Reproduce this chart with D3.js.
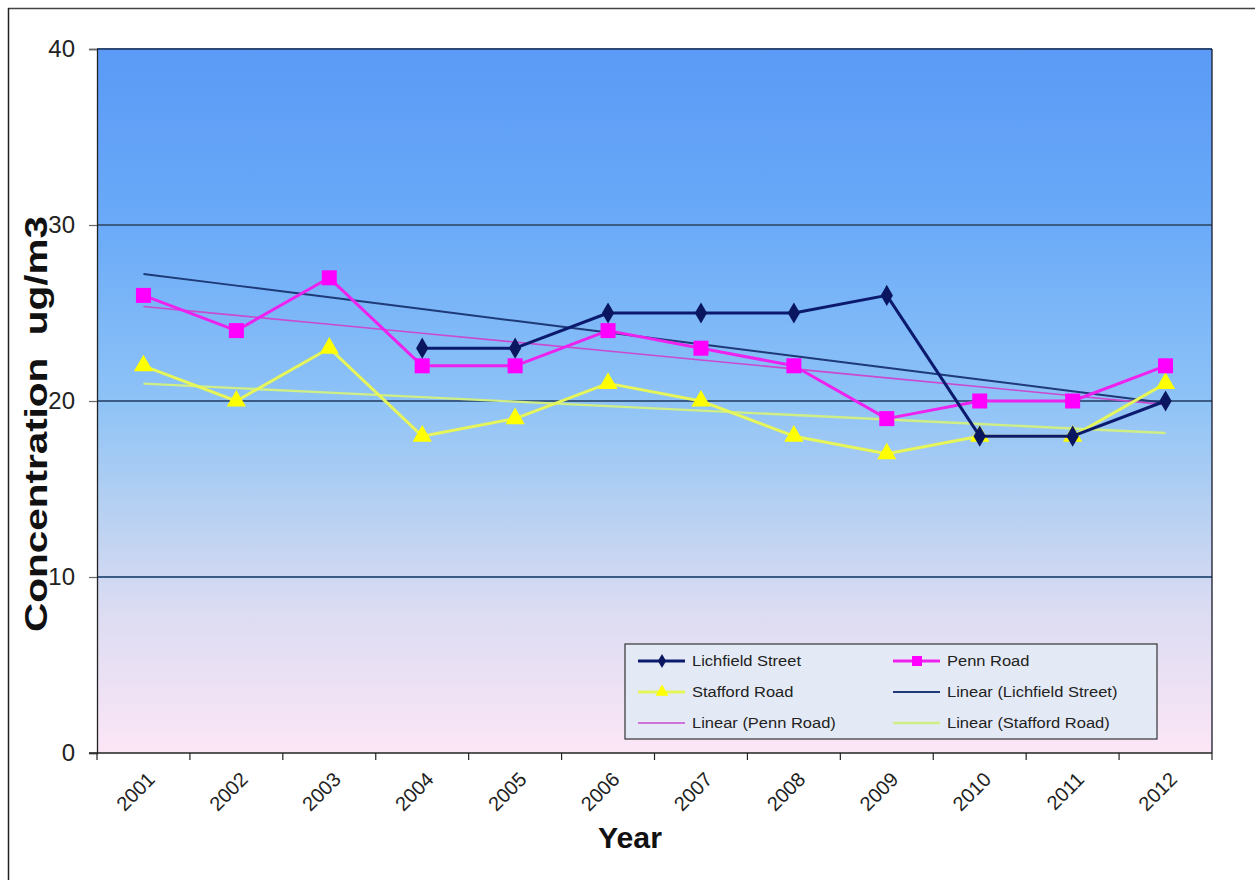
<!DOCTYPE html>
<html>
<head>
<meta charset="utf-8">
<script src="https://cdn.jsdelivr.net/npm/d3@7/dist/d3.min.js"></script>
<style>
  html, body { margin: 0; padding: 0; background: #fff; }
  svg { display: block; font-family: "Liberation Sans", Arial, sans-serif; }
</style>
</head>
<body>
<svg id="chart" width="1255" height="880"></svg>
<script>
// Annual mean concentrations (ug/m3) by monitoring site
const years = ["2001","2002","2003","2004","2005","2006","2007","2008","2009","2010","2011","2012"];
const lichfieldStreet = [null, null, null, 23, 23, 25, 25, 25, 26, 18, 18, 20];
const pennRoad        = [26, 24, 27, 22, 22, 24, 23, 22, 19, 20, 20, 22];
const staffordRoad    = [22, 20, 23, 18, 19, 21, 20, 18, 17, 18, 18, 21];
const yTicks = [0, 10, 20, 30, 40];

const svg = d3.select("#chart");
const W = 1255, H = 880;
const plot = { left: 97, right: 1212, top: 49, bottom: 753 };

// Outer frame
svg.append("rect").attr("x", 0).attr("y", 0).attr("width", W).attr("height", H).attr("fill", "#fff");
svg.append("line").attr("x1", 8).attr("x2", W).attr("y1", 8.5).attr("y2", 8.5).attr("stroke", "#444").attr("stroke-width", 1.5);
svg.append("line").attr("x1", 8.5).attr("x2", 8.5).attr("y1", 8).attr("y2", H).attr("stroke", "#222").attr("stroke-width", 1.5);

const x = d3.scaleBand().domain(years).range([plot.left, plot.right]).padding(0);
const y = d3.scaleLinear().domain([0, 40]).range([plot.bottom, plot.top]);
const cx = d => x(d) + x.bandwidth() / 2;

// Plot background gradient
const defs = svg.append("defs");
const grad = defs.append("linearGradient").attr("id", "bg").attr("x1", 0).attr("y1", 0).attr("x2", 0).attr("y2", 1);
[[0, "#5b9af6"], [0.25, "#6aaaf8"], [0.5, "#8ec3f7"], [0.65, "#b5d0f2"], [0.8, "#dcdcf2"], [1, "#fce6f6"]]
  .forEach(([o, c]) => grad.append("stop").attr("offset", o).attr("stop-color", c));
svg.append("rect")
  .attr("x", plot.left).attr("y", plot.top)
  .attr("width", plot.right - plot.left).attr("height", plot.bottom - plot.top)
  .attr("fill", "url(#bg)");

// Horizontal gridlines
svg.append("g").selectAll("line").data(yTicks.filter(t => t > 0)).join("line")
  .attr("x1", plot.left).attr("x2", plot.right)
  .attr("y1", d => y(d)).attr("y2", d => y(d))
  .attr("stroke", d => d === 40 ? "#2c4a78" : "#3b5c84").attr("stroke-width", 2);

// Plot border right
svg.append("line").attr("x1", plot.right).attr("x2", plot.right).attr("y1", plot.top).attr("y2", plot.bottom)
  .attr("stroke", "#1a1a2a").attr("stroke-width", 1.3);

// Y axis
const yAxis = d3.axisLeft(y).tickValues(yTicks).tickSize(8).tickPadding(14);
const gy = svg.append("g").attr("transform", `translate(${plot.left},0)`).call(yAxis);
gy.select(".domain").attr("stroke", "#222").attr("stroke-width", 1.3);
gy.selectAll(".tick line").attr("stroke", "#666").attr("stroke-width", 1.2);
gy.selectAll(".tick text").attr("font-size", 24).attr("fill", "#222")
  .attr("font-family", "'Liberation Sans', Arial, sans-serif");

// X axis with ticks at category boundaries
const gx = svg.append("g").attr("transform", `translate(0,${plot.bottom})`);
gx.append("line").attr("x1", plot.left - 8).attr("x2", plot.right).attr("y1", 0).attr("y2", 0)
  .attr("stroke", "#222").attr("stroke-width", 1.3);
const bounds = years.map(d => x(d)).concat([plot.right]);
gx.selectAll("line.b").data(bounds).join("line").attr("class", "b")
  .attr("x1", d => d).attr("x2", d => d).attr("y1", 0).attr("y2", 7)
  .attr("stroke", "#222").attr("stroke-width", 1.2);
gx.selectAll("text").data(years).join("text")
  .attr("transform", d => `translate(${cx(d) + 9},${24}) rotate(-45)`)
  .attr("text-anchor", "end").attr("dominant-baseline", "middle")
  .attr("font-size", 20).attr("fill", "#222").text(d => d);

// Axis titles
svg.append("text")
  .attr("transform", `translate(47,${424}) rotate(-90)`)
  .attr("text-anchor", "middle").attr("font-size", 31).attr("font-weight", "bold").attr("fill", "#111")
  .attr("textLength", 416).attr("lengthAdjust", "spacingAndGlyphs")
  .attr("xml:space", "preserve")
  .text("Concentration  ug/m3");
svg.append("text")
  .attr("x", 630).attr("y", 848).attr("text-anchor", "middle")
  .attr("font-size", 29).attr("font-weight", "bold").attr("fill", "#111")
  .attr("textLength", 64).attr("lengthAdjust", "spacingAndGlyphs").text("Year");

// Least-squares linear trend over category index (1..n), skipping gaps
function linearTrend(values) {
  const pts = values.map((v, i) => [i + 1, v]).filter(p => p[1] != null);
  const mx = d3.mean(pts, p => p[0]), my = d3.mean(pts, p => p[1]);
  const sxy = d3.sum(pts, p => (p[0] - mx) * (p[1] - my));
  const sxx = d3.sum(pts, p => (p[0] - mx) ** 2);
  const b = sxy / sxx, a = my - b * mx;
  return years.map((yr, i) => ({ yr, v: a + b * (i + 1) }));
}

const series = [
  { name: "Lichfield Street", data: lichfieldStreet, color: "#0c1a6e", width: 3, marker: "diamond", mcolor: "#0a1660", trendColor: "#1e3a78", trendWidth: 2 },
  { name: "Penn Road", data: pennRoad, color: "#ee22ee", width: 3, marker: "square", mcolor: "#ff00ff", trendColor: "#c94ad0", trendWidth: 1.6 },
  { name: "Stafford Road", data: staffordRoad, color: "#e6f55a", width: 3, marker: "triangle", mcolor: "#ffff00", trendColor: "#cfee86", trendWidth: 2.4 }
];

const lineGen = d3.line().defined(d => d.v != null).x(d => cx(d.yr)).y(d => y(d.v));
const trendGen = d3.line().x(d => cx(d.yr)).y(d => y(d.v));

const symbolFor = { diamond: d3.symbolDiamond, square: d3.symbolSquare, triangle: d3.symbolTriangle };
const symbolSize = { diamond: 130, square: 225, triangle: 160 };

const trendLayer = svg.append("g");
const lineLayer = svg.append("g");

series.forEach(s => {
  trendLayer.append("path").datum(linearTrend(s.data)).attr("d", trendGen)
    .attr("fill", "none").attr("stroke", s.trendColor).attr("stroke-width", s.trendWidth);
});
// Stafford first so navy/magenta sit on top
[series[2], series[1], series[0]].forEach(s => {
  const pts = years.map((yr, i) => ({ yr, v: s.data[i] }));
  const g = lineLayer.append("g");
  g.append("path").datum(pts).attr("d", lineGen)
    .attr("fill", "none").attr("stroke", s.color).attr("stroke-width", s.width).attr("stroke-linejoin", "round");
  g.selectAll("path.m").data(pts.filter(d => d.v != null)).join("path").attr("class", "m")
    .attr("transform", d => `translate(${cx(d.yr)},${y(d.v)})`)
    .attr("d", d3.symbol().type(symbolFor[s.marker]).size(symbolSize[s.marker]))
    .attr("fill", s.mcolor);
});

// Legend
const lg = svg.append("g").attr("transform", "translate(625,644)");
lg.append("rect").attr("x", 0).attr("y", 0).attr("width", 532).attr("height", 95)
  .attr("fill", "#e4eaf5").attr("stroke", "#333").attr("stroke-width", 1.2);
const legendItems = [
  { label: "Lichfield Street", s: series[0], trend: false },
  { label: "Penn Road", s: series[1], trend: false },
  { label: "Stafford Road", s: series[2], trend: false },
  { label: "Linear (Lichfield Street)", s: series[0], trend: true },
  { label: "Linear (Penn Road)", s: series[1], trend: true },
  { label: "Linear (Stafford Road)", s: series[2], trend: true }
];
legendItems.forEach((it, i) => {
  const col = i % 2, row = Math.floor(i / 2);
  const gx0 = 13 + col * 255, gy0 = 17 + row * 31;
  const g = lg.append("g").attr("transform", `translate(${gx0},${gy0})`);
  g.append("line").attr("x1", 0).attr("x2", 47).attr("y1", 0).attr("y2", 0)
    .attr("stroke", it.trend ? it.s.trendColor : it.s.color)
    .attr("stroke-width", it.trend ? it.s.trendWidth : 3);
  if (!it.trend) {
    g.append("path").attr("transform", "translate(24,0)")
      .attr("d", d3.symbol().type(symbolFor[it.s.marker]).size(symbolSize[it.s.marker] * 0.45))
      .attr("fill", it.s.mcolor);
  }
  g.append("text").attr("x", 54).attr("y", 0).attr("dominant-baseline", "central")
    .attr("font-size", 15).attr("fill", "#222")
    .attr("transform", "translate(54,0) scale(1.1,1) translate(-54,0)")
    .text(it.label);
});
</script>
</body>
</html>
